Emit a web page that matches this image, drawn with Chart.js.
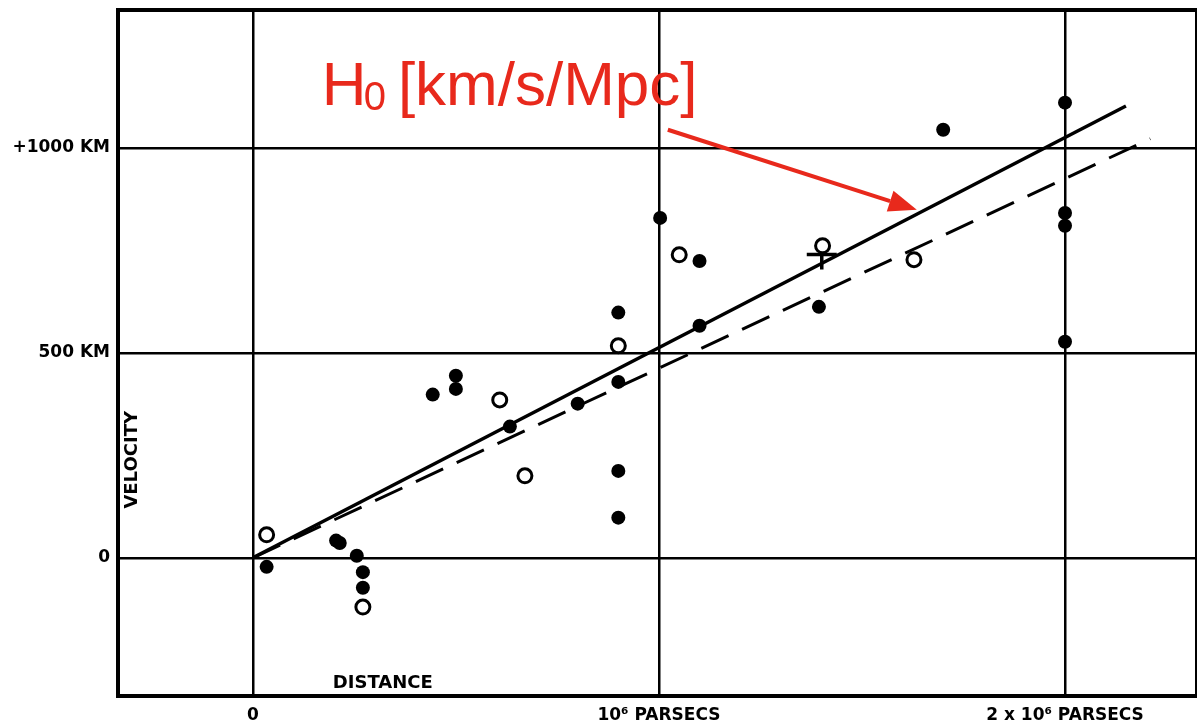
<!DOCTYPE html>
<html>
<head>
<meta charset="utf-8">
<title>Velocity-Distance Relation among Extra-Galactic Nebulae</title>
<script src="https://cdn.jsdelivr.net/npm/chart.js@4/dist/chart.umd.min.js"></script>
<style>
  html, body { margin: 0; padding: 0; background: #fff; }
  #wrap { width: 1197px; height: 727px; }
</style>
</head>
<body>
<div id="wrap"><canvas id="hubbleChart"></canvas></div>
<script>
// distance in 10^6 parsecs, velocity in km/s

// individual nebulae (filled dots)
const nebulaeX = [0.034, 0.205, 0.214, 0.256, 0.271, 0.271, 0.443, 0.50, 0.50, 0.633, 0.80, 0.90, 0.90, 0.90, 0.90, 1.003, 1.10, 1.10, 1.394, 1.70, 2.0, 2.0, 2.0, 2.0];
const nebulaeV = [-22, 42, 36, 5, -35, -73, 398, 444, 412, 320, 376, 598, 429, 212, 98, 829, 724, 566, 612, 1044, 1110, 841, 810, 527];

// groups of nebulae (open circles)
const groupsX = [0.034, 0.271, 0.608, 0.67, 0.90, 1.05, 1.403, 1.628];
const groupsV = [56, -120, 385, 200, 517, 739, 761, 727];

// mean of the nebulae without individual distances (cross)
const meanX = [1.401];
const meanV = [740];

// fitted lines: solid for nebulae, dashed for groups
const fitNebulaeX = [0, 2.15];
const fitNebulaeV = [0, 1102];
const fitGroupsX = [0, 2.21];
const fitGroupsV = [0, 1022];

const xTicks = [0, 1, 2];
const xTickLabels = ["0", "10\u2076 PARSECS", "2 x 10\u2076 PARSECS"];
const yTicks = [0, 500, 1000];
const yTickLabels = ["0", "500 KM", "+1000 KM"];

const RED = "#e8291c";
const LETTERING = '"DejaVu Sans", sans-serif';

function toPoints(xs, ys) {
  return xs.map((x, i) => ({ x: x, y: ys[i] }));
}

// frame, axis names inside the frame and the red H0 note
const decorations = {
  id: "decorations",
  afterDraw(chart) {
    const { ctx, chartArea: a, scales: { x, y } } = chart;
    ctx.save();

    ctx.strokeStyle = "#000";
    ctx.lineWidth = 4;
    ctx.beginPath();
    ctx.moveTo(a.left, a.top);
    ctx.lineTo(a.right, a.top);
    ctx.lineTo(a.right, a.bottom);
    ctx.stroke();

    ctx.fillStyle = "#000";
    ctx.font = "bold 18px " + LETTERING;
    ctx.textAlign = "center";
    ctx.textBaseline = "middle";
    ctx.fillText("DISTANCE", x.getPixelForValue(0.32), y.getPixelForValue(-305));
    ctx.save();
    ctx.translate(x.getPixelForValue(-0.296), y.getPixelForValue(239));
    ctx.rotate(-Math.PI / 2);
    ctx.fillText("VELOCITY", 0, 0);
    ctx.restore();

    // H0 label
    ctx.fillStyle = RED;
    ctx.textAlign = "left";
    ctx.textBaseline = "alphabetic";
    const left = x.getPixelForValue(0.17);
    const base = y.getPixelForValue(1105);
    ctx.font = '62px "Liberation Sans", Arial, sans-serif';
    ctx.fillText("H", left, base);
    const subLeft = left + ctx.measureText("H").width - 3;
    ctx.font = '40px "Liberation Sans", Arial, sans-serif';
    ctx.fillText("0", subLeft, base + 5);
    const restLeft = subLeft + ctx.measureText("0").width + 12;
    ctx.font = '62px "Liberation Sans", Arial, sans-serif';
    ctx.fillText("[km/s/Mpc]", restLeft, base);

    // arrow pointing at the fitted line
    const x0 = x.getPixelForValue(1.022), y0 = y.getPixelForValue(1044);
    const x1 = x.getPixelForValue(1.635), y1 = y.getPixelForValue(849);
    const ang = Math.atan2(y1 - y0, x1 - x0);
    const headLen = 28, headHalf = 11;
    const bx = x1 - headLen * Math.cos(ang), by = y1 - headLen * Math.sin(ang);
    ctx.strokeStyle = RED;
    ctx.lineWidth = 4;
    ctx.beginPath();
    ctx.moveTo(x0, y0);
    ctx.lineTo(bx, by);
    ctx.stroke();
    ctx.beginPath();
    ctx.moveTo(x1, y1);
    ctx.lineTo(bx + headHalf * Math.sin(ang), by - headHalf * Math.cos(ang));
    ctx.lineTo(bx - headHalf * Math.sin(ang), by + headHalf * Math.cos(ang));
    ctx.closePath();
    ctx.fill();

    ctx.restore();
  }
};

const chart = new Chart(document.getElementById("hubbleChart"), {
  type: "scatter",
  data: {
    datasets: [
      {
        label: "Nebulae fit",
        data: toPoints(fitNebulaeX, fitNebulaeV),
        showLine: true,
        borderColor: "#000",
        borderWidth: 3.5,
        pointRadius: 0,
        order: 3
      },
      {
        label: "Groups fit",
        data: toPoints(fitGroupsX, fitGroupsV),
        showLine: true,
        borderColor: "#000",
        borderWidth: 3,
        borderDash: [30, 15],
        pointRadius: 0,
        order: 3
      },
      {
        label: "Nebulae",
        data: toPoints(nebulaeX, nebulaeV),
        backgroundColor: "#000",
        borderColor: "#000",
        borderWidth: 0,
        pointRadius: 7,
        order: 1
      },
      {
        label: "Groups",
        data: toPoints(groupsX, groupsV),
        backgroundColor: "#fff",
        borderColor: "#000",
        borderWidth: 3,
        pointRadius: 7,
        order: 1
      },
      {
        label: "Mean",
        data: toPoints(meanX, meanV),
        pointStyle: "cross",
        borderColor: "#000",
        borderWidth: 3.5,
        pointRadius: 15,
        order: 2
      }
    ]
  },
  options: {
    responsive: true,
    maintainAspectRatio: false,
    animation: false,
    events: [],
    layout: { autoPadding: false, padding: { top: 10, right: 0, left: 0, bottom: 0 } },
    plugins: {
      legend: { display: false },
      tooltip: { enabled: false }
    },
    scales: {
      x: {
        type: "linear",
        min: -0.332,
        max: 2.325,
        afterBuildTicks: scale => { scale.ticks = xTicks.map(v => ({ value: v })); },
        afterFit: scale => { scale.height = 31; },
        ticks: {
          callback: v => xTickLabels[xTicks.indexOf(v)],
          color: "#000",
          font: { family: LETTERING, weight: "bold", size: 17 },
          maxRotation: 0,
          autoSkip: false,
          padding: 9
        },
        grid: { color: "#000", lineWidth: 2.5, drawTicks: false },
        border: { color: "#000", width: 4 }
      },
      y: {
        type: "linear",
        min: -337,
        max: 1336,
        afterBuildTicks: scale => { scale.ticks = yTicks.map(v => ({ value: v })); },
        afterFit: scale => {
          scale.width = 118;
          // the top tick sits well inside the frame, no room needed above it
          scale.paddingTop = 0;
        },
        ticks: {
          callback: v => yTickLabels[yTicks.indexOf(v)],
          color: "#000",
          font: { family: LETTERING, weight: "bold", size: 17 },
          autoSkip: false,
          padding: 8
        },
        grid: { color: "#000", lineWidth: 2.5, drawTicks: false },
        border: { color: "#000", width: 4 }
      }
    }
  },
  plugins: [decorations]
});
</script>
</body>
</html>
